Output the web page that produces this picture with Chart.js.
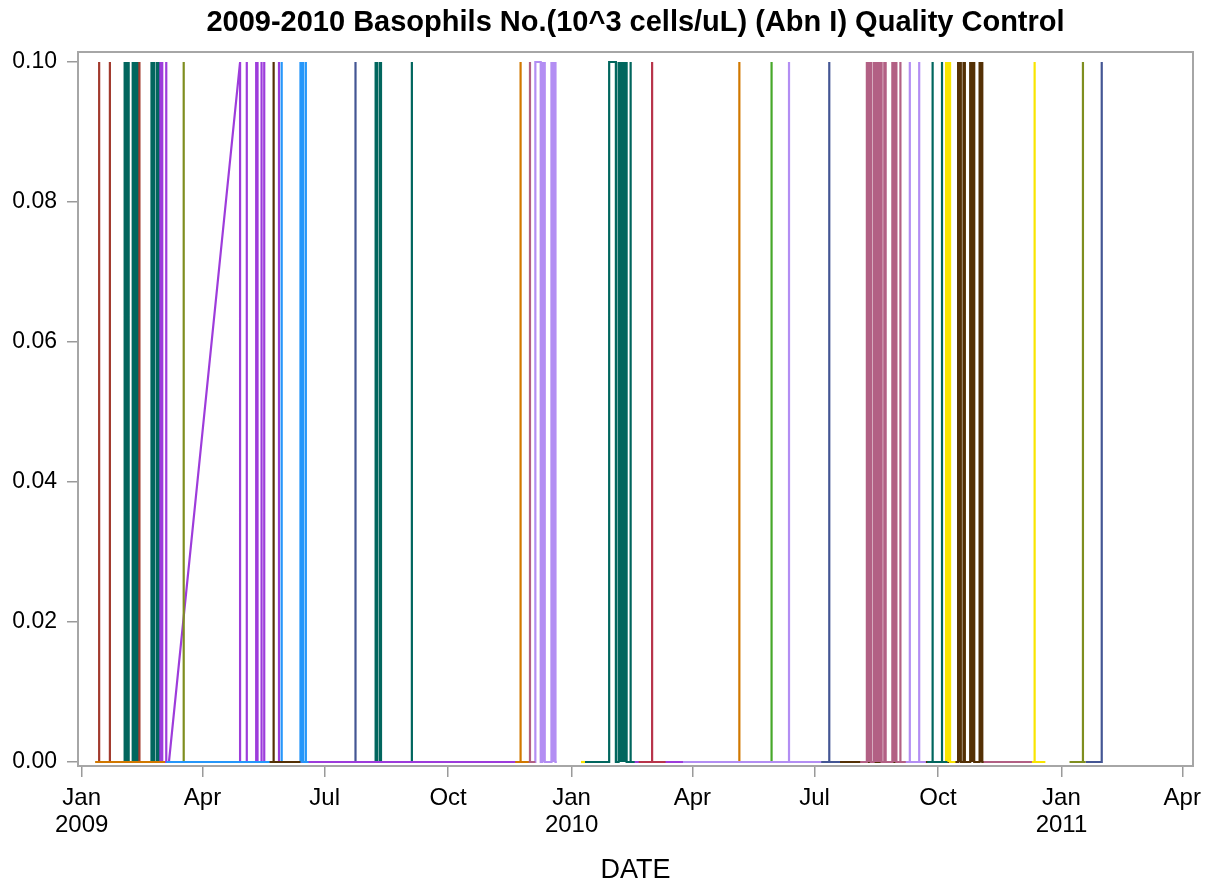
<!DOCTYPE html>
<html>
<head>
<meta charset="utf-8">
<title>Basophils QC</title>
<script src="https://cdn.jsdelivr.net/npm/chart.js@4.4.1/dist/chart.umd.min.js"></script>
<style>
  html, body { margin: 0; padding: 0; background: #fff; }
</style>
</head>
<body>
<canvas id="qcChart" width="1217" height="888"></canvas>
<script>
// QC results per reagent lot: [run date, basophils 10^3 cells/uL]
const lot01 = [['2009-01-12',0],['2009-01-14',0],['2009-01-14',0.1],['2009-01-14',0],['2009-01-22',0],['2009-01-22',0.1],['2009-01-22',0],
  ['2009-02-13',0],['2009-02-13',0.1],['2009-02-13',0],['2009-02-16',0]];
const lot02 = [['2009-01-11',0],['2009-03-04',0]];
const lot03 = [['2009-01-30',0],
  ['2009-02-02',0],['2009-02-02',0.1],['2009-02-03',0],['2009-02-03',0.1],['2009-02-04',0],['2009-02-04',0.1],['2009-02-05',0],['2009-02-05',0.1],['2009-02-05',0],
  ['2009-02-08',0],['2009-02-08',0.1],['2009-02-09',0],['2009-02-09',0.1],['2009-02-10',0],['2009-02-10',0.1],['2009-02-11',0],['2009-02-11',0.1],['2009-02-12',0],['2009-02-12',0.1],['2009-02-12',0],
  ['2009-02-22',0],['2009-02-22',0.1],['2009-02-23',0],['2009-02-23',0.1],['2009-02-24',0],['2009-02-24',0.1],['2009-02-24',0],
  ['2009-02-26',0],['2009-02-26',0.1],['2009-02-27',0],['2009-02-27',0.1],['2009-02-27',0],['2009-03-01',0]];
const lot04 = [['2009-02-25',0],
  ['2009-02-28',0],['2009-02-28',0.1],['2009-03-01',0],['2009-03-01',0.1],['2009-03-02',0],['2009-03-02',0.1],['2009-03-02',0],
  ['2009-03-05',0],['2009-03-05',0.1],['2009-03-05',0],
  ['2009-03-07',0],['2009-04-29',0.1],['2009-04-29',0],
  ['2009-05-04',0],['2009-05-04',0.1],['2009-05-04',0],
  ['2009-05-11',0],['2009-05-11',0.1],['2009-05-12',0],['2009-05-12',0.1],['2009-05-12',0],
  ['2009-05-15',0],['2009-05-15',0.1],['2009-05-15',0],
  ['2009-05-17',0],['2009-05-17',0.1],['2009-05-17',0],
  ['2009-05-28',0],['2009-05-28',0.1],['2009-05-28',0],['2009-11-20',0]];
const lot05 = [['2009-03-10',0],['2009-03-18',0],['2009-03-18',0.1],['2009-03-18',0],['2009-03-22',0]];
const lot06 = [['2009-03-05',0],['2009-05-30',0],['2009-05-30',0.1],['2009-05-30',0],
  ['2009-06-13',0],['2009-06-13',0.1],['2009-06-14',0],['2009-06-14',0.1],['2009-06-15',0],['2009-06-15',0.1],['2009-06-15',0],
  ['2009-06-17',0],['2009-06-17',0.1],['2009-06-17',0],['2009-06-19',0]];
const lot07 = [['2009-05-21',0],['2009-05-24',0],['2009-05-24',0.1],['2009-05-24',0],['2009-06-13',0]];
const lot08 = [['2009-07-14',0],['2009-07-24',0],['2009-07-24',0.1],['2009-07-24',0],['2009-07-31',0]];
const lot09 = [['2009-08-04',0],
  ['2009-08-08',0],['2009-08-08',0.1],['2009-08-09',0],['2009-08-09',0.1],['2009-08-09',0],
  ['2009-08-11',0],['2009-08-11',0.1],['2009-08-12',0],['2009-08-12',0.1],['2009-08-12',0],
  ['2009-09-04',0],['2009-09-04',0.1],['2009-09-04',0],['2009-09-09',0]];
const lot10 = [['2009-11-16',0],['2009-11-24',0],['2009-11-24',0.1],['2009-11-24',0],['2009-11-30',0]];
const lot11 = [['2009-11-26',0],['2009-12-01',0],['2009-12-01',0.1],['2009-12-01',0],['2009-12-05',0]];
const lot12 = [['2009-12-02',0],['2009-12-05',0],['2009-12-05',0.1],['2009-12-09',0.1],['2009-12-09',0],
  ['2009-12-10',0],['2009-12-10',0.1],['2009-12-11',0],['2009-12-11',0.1],['2009-12-12',0],['2009-12-12',0.1],['2009-12-12',0],
  ['2009-12-17',0],['2009-12-17',0.1],['2009-12-18',0],['2009-12-18',0.1],['2009-12-19',0],['2009-12-19',0.1],['2009-12-20',0],['2009-12-20',0.1],['2009-12-20',0],
  ['2009-12-21',0]];
const lot13 = [['2010-01-08',0],['2010-01-11',0]];
const lot14 = [['2010-01-09',0],['2010-01-29',0],['2010-01-29',0.1],['2010-02-03',0.1],['2010-02-03',0],
  ['2010-02-05',0],['2010-02-05',0.1],['2010-02-06',0],['2010-02-06',0.1],['2010-02-07',0],['2010-02-07',0.1],['2010-02-08',0],['2010-02-08',0.1],
  ['2010-02-09',0],['2010-02-09',0.1],['2010-02-10',0],['2010-02-10',0.1],['2010-02-11',0],['2010-02-11',0.1],['2010-02-11',0],
  ['2010-02-14',0],['2010-02-14',0.1],['2010-02-14',0],['2010-02-17',0]];
const lot15 = [['2010-02-20',0],['2010-03-02',0],['2010-03-02',0.1],['2010-03-02',0],['2010-03-12',0]];
const lot16 = [['2010-02-15',0],['2010-04-05',0]];
const lot17 = [['2010-04-28',0],['2010-05-06',0],['2010-05-06',0.1],['2010-05-06',0],['2010-05-14',0]];
const lot18 = [['2010-05-22',0],['2010-05-30',0],['2010-05-30',0.1],['2010-05-30',0],['2010-06-06',0]];
const lot19 = [['2010-03-25',0],['2010-06-12',0],['2010-06-12',0.1],['2010-06-12',0],['2010-07-06',0]];
const lot20 = [['2010-07-02',0],['2010-07-12',0],['2010-07-12',0.1],['2010-07-12',0],['2010-07-20',0]];
const lot21 = [['2010-08-04',0],
  ['2010-08-09',0],['2010-08-09',0.1],['2010-08-10',0],['2010-08-10',0.1],['2010-08-11',0],['2010-08-11',0.1],['2010-08-12',0],['2010-08-12',0.1],['2010-08-12',0],
  ['2010-08-14',0],['2010-08-14',0.1],['2010-08-15',0],['2010-08-15',0.1],['2010-08-16',0],['2010-08-16',0.1],['2010-08-17',0],['2010-08-17',0.1],
  ['2010-08-18',0],['2010-08-18',0.1],['2010-08-19',0],['2010-08-19',0.1],['2010-08-20',0],['2010-08-20',0.1],['2010-08-20',0],
  ['2010-08-22',0],['2010-08-22',0.1],['2010-08-23',0],['2010-08-23',0.1],['2010-08-23',0],
  ['2010-08-28',0],['2010-08-28',0.1],['2010-08-29',0],['2010-08-29',0.1],['2010-08-30',0],['2010-08-30',0.1],['2010-08-31',0],['2010-08-31',0.1],['2010-08-31',0],
  ['2010-09-03',0],['2010-09-03',0.1],['2010-09-03',0],['2010-09-07',0]];
const lot22 = [['2010-09-06',0],['2010-09-10',0],['2010-09-10',0.1],['2010-09-10',0],['2010-09-17',0],['2010-09-17',0.1],['2010-09-17',0],['2010-09-22',0]];
const lot23 = [['2010-09-23',0],['2010-09-27',0],['2010-09-27',0.1],['2010-09-27',0],['2010-10-04',0],['2010-10-04',0.1],['2010-10-04',0],['2010-10-08',0]];
const lot24 = [['2010-10-05',0],['2010-10-07',0],['2010-10-07',0.1],['2010-10-08',0],['2010-10-08',0.1],['2010-10-09',0],['2010-10-09',0.1],
  ['2010-10-10',0],['2010-10-10',0.1],['2010-10-10',0],['2010-10-14',0]];
const lot25 = [['2010-06-21',0],
  ['2010-10-16',0],['2010-10-16',0.1],['2010-10-17',0],['2010-10-17',0.1],['2010-10-18',0],['2010-10-18',0.1],['2010-10-18',0],
  ['2010-10-20',0],['2010-10-20',0.1],['2010-10-21',0],['2010-10-21',0.1],['2010-10-21',0],
  ['2010-10-25',0],['2010-10-25',0.1],['2010-10-26',0],['2010-10-26',0.1],['2010-10-27',0],['2010-10-27',0.1],['2010-10-28',0],['2010-10-28',0.1],['2010-10-28',0],
  ['2010-11-01',0],['2010-11-01',0.1],['2010-11-02',0],['2010-11-02',0.1],['2010-11-03',0],['2010-11-03',0.1],['2010-11-03',0],['2010-11-05',0]];
const lot26 = [['2010-11-04',0],['2010-12-10',0]];
const lot27 = [['2010-12-09',0],['2010-12-12',0],['2010-12-12',0.1],['2010-12-12',0],['2010-12-20',0]];
const lot28 = [['2011-01-07',0],['2011-01-17',0],['2011-01-17',0.1],['2011-01-17',0],['2011-01-19',0]];
const lot29 = [['2011-01-19',0],['2011-01-31',0],['2011-01-31',0.1]];

// date axis ticks (quarterly) and value axis ticks
const xTickDates = ['2009-01-01','2009-04-01','2009-07-01','2009-10-01','2010-01-01','2010-04-01','2010-07-01','2010-10-01','2011-01-01','2011-04-01'];
const xTickLabels = [['Jan','2009'],'Apr','Jul','Oct',['Jan','2010'],'Apr','Jul','Oct',['Jan','2011'],'Apr'];
const yTicks = [0, 0.02, 0.04, 0.06, 0.08, 0.10];

// SAS group palette
const C = {
  slate: '#445694', red: '#A23A2E', teal: '#01665E', brown: '#543005', purple: '#9D3CDB', olive: '#7F8E1F',
  blue: '#2597FA', mauve: '#B26084', orange: '#D17800', green: '#47A82A', lavender: '#B38EF3', yellow: '#F9E500',
  crimson: '#B8344A'
};

// first entry is drawn on top
const series = [
  [lot07, C.brown], [lot06, C.blue], [lot02, C.orange], [lot01, C.red], [lot03, C.teal], [lot05, C.olive], [lot04, C.purple],
  [lot08, C.slate], [lot09, C.teal], [lot10, C.orange], [lot11, C.mauve], [lot12, C.lavender],
  [lot13, C.yellow], [lot14, C.teal], [lot15, C.crimson], [lot19, C.lavender], [lot16, C.purple], [lot17, C.orange], [lot18, C.green],
  [lot20, C.slate], [lot21, C.mauve], [lot22, C.lavender], [lot23, C.teal], [lot24, C.yellow], [lot26, C.mauve], [lot25, C.brown],
  [lot27, C.yellow], [lot28, C.olive], [lot29, C.slate]
];

const DAY0 = Date.UTC(2009, 0, 1);
const toDay = s => {
  const [y, m, d] = s.split('-').map(Number);
  return (Date.UTC(y, m - 1, d) - DAY0) / 86400000;
};

const FONT = "'Liberation Sans', Arial, Helvetica, sans-serif";

const frame = {
  id: 'frame',
  afterDraw(chart) {
    const { ctx, chartArea: a } = chart;
    ctx.save();
    ctx.strokeStyle = '#a6a6a6';
    ctx.lineWidth = 2;
    ctx.strokeRect(a.left, a.top, a.right - a.left, a.bottom - a.top);
    ctx.restore();
  }
};

new Chart(document.getElementById('qcChart'), {
  type: 'line',
  data: {
    datasets: series.map(([runs, color]) => ({
      data: runs.map(([d, v]) => ({ x: toDay(d), y: v })),
      borderColor: color,
      borderWidth: 2.2,
      pointRadius: 0,
      tension: 0,
      fill: false
    }))
  },
  options: {
    responsive: false,
    animation: false,
    parsing: false,
    layout: { padding: { top: 0, right: 24, bottom: 0, left: 0 } },
    plugins: {
      legend: { display: false },
      tooltip: { enabled: false },
      title: {
        display: true,
        fullSize: false,
        text: '2009-2010 Basophils No.(10^3 cells/uL) (Abn I) Quality Control',
        color: '#000',
        font: { family: FONT, size: 29, weight: 'bold', lineHeight: 1.2 },
        padding: { top: 6, bottom: 11.2 }
      }
    },
    scales: {
      x: {
        type: 'linear',
        min: -2.76,
        max: 828,
        afterBuildTicks: s => { s.ticks = xTickDates.map(d => ({ value: toDay(d) })); },
        afterFit: s => { s.height = 122; },
        ticks: {
          callback: (v, i) => xTickLabels[i],
          color: '#000',
          font: { family: FONT, size: 24, lineHeight: 1.12 },
          padding: 8,
          maxRotation: 0,
          autoSkip: false
        },
        grid: { drawOnChartArea: false, drawTicks: true, tickLength: 11, color: '#9a9a9a', lineWidth: 1.5 },
        border: { display: false },
        title: {
          display: true,
          text: 'DATE',
          color: '#000',
          font: { family: FONT, size: 27, lineHeight: 1.2 },
          padding: { top: 0, bottom: 1.5 }
        }
      },
      y: {
        min: -0.00057,
        max: 0.10143,
        afterBuildTicks: s => { s.ticks = yTicks.map(v => ({ value: v })); },
        afterFit: s => { s.width = 78; },
        ticks: {
          callback: v => v.toFixed(2),
          color: '#000',
          font: { family: FONT, size: 23 },
          padding: 10
        },
        grid: { drawOnChartArea: false, drawTicks: true, tickLength: 11, color: '#9a9a9a', lineWidth: 1.5 },
        border: { display: false }
      }
    }
  },
  plugins: [frame]
});
</script>
</body>
</html>
